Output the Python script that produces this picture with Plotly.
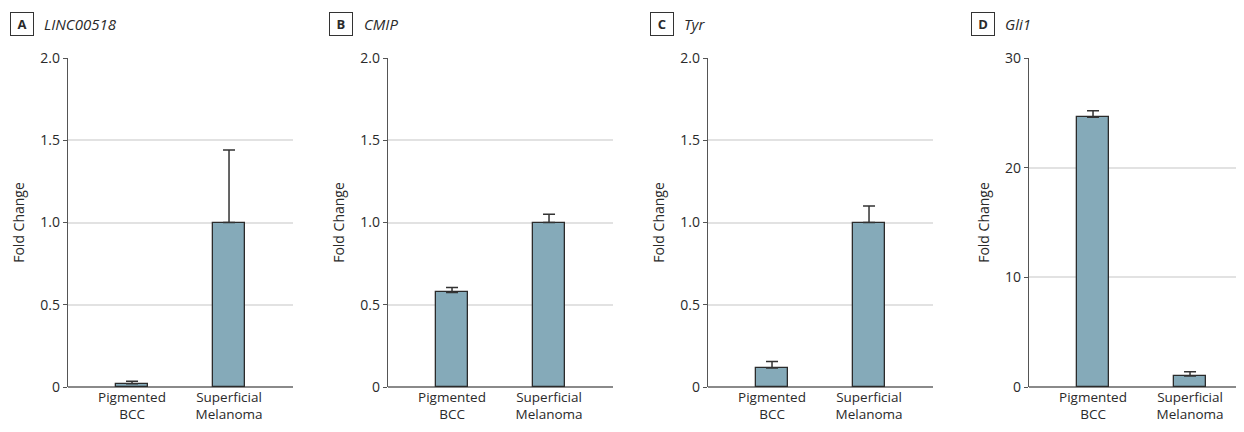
import plotly.graph_objects as go
from plotly.subplots import make_subplots

categories = ["Pigmented<br>BCC", "Superficial<br>Melanoma"]
panel_letters = ["A", "B", "C", "D"]
gene_names = ["LINC00518", "CMIP", "Tyr", "Gli1"]
fold_change = [
    [0.02, 1.0],
    [0.575, 1.0],
    [0.115, 1.0],
    [24.6, 1.0],
]
errors = [
    [0.015, 0.44],
    [0.03, 0.05],
    [0.04, 0.10],
    [0.6, 0.4],
]
y_ranges = [[0, 2.0], [0, 2.0], [0, 2.0], [0, 30]]
y_ticks = [
    [0, 0.5, 1.0, 1.5, 2.0],
    [0, 0.5, 1.0, 1.5, 2.0],
    [0, 0.5, 1.0, 1.5, 2.0],
    [0, 10, 20, 30],
]
y_ticktext = [
    ["0", "0.5", "1.0", "1.5", "2.0"],
    ["0", "0.5", "1.0", "1.5", "2.0"],
    ["0", "0.5", "1.0", "1.5", "2.0"],
    ["0", "10", "20", "30"],
]

# page body has an 8px margin, so the figure is laid out 8px in from the window
OFF = 8
W, H = 1244 - OFF, 432 - OFF
TOP, PH = 58 - OFF, 329
FONT = "Open Sans, Noto Sans, sans-serif"
BAR = "#85AAB9"
TXT = "#2a2a2a"

fig = make_subplots(rows=1, cols=4)

x_left_px = [68 - OFF, 388 - OFF, 708 - OFF, 1029 - OFF]
plot_w_px = 225
unit_px = 97.0

for i in range(4):
    fig.add_trace(
        go.Bar(
            x=[0, 1],
            y=fold_change[i],
            width=0.33,
            marker=dict(color=BAR, line=dict(color="#2b2b2b", width=1.3)),
            error_y=dict(type="data", array=errors[i], arrayminus=[0, 0],
                         symmetric=False, color="#333333", thickness=1.5, width=6),
            showlegend=False,
            hoverinfo="skip",
        ),
        row=1, col=i + 1,
    )
    right_px = min(x_left_px[i] + plot_w_px, W)
    x0 = x_left_px[i] / W
    x1 = right_px / W
    xr_right = -0.66 + (right_px - x_left_px[i]) / unit_px
    xa = "xaxis" if i == 0 else f"xaxis{i+1}"
    ya = "yaxis" if i == 0 else f"yaxis{i+1}"
    fig.layout[xa].update(
        domain=[x0, x1], range=[-0.66, xr_right],
        tickmode="array", tickvals=[0, 1], ticktext=categories,
        showgrid=False, zeroline=False, showline=False, ticks="",
        tickfont=dict(family=FONT, size=13.5, color=TXT),
    )
    fig.layout[ya].update(
        range=y_ranges[i], tickmode="array", tickvals=y_ticks[i], ticktext=y_ticktext[i],
        showgrid=True, gridcolor="#e2e2e2", gridwidth=1.5,
        zeroline=True, zerolinecolor="#8a8a8a", zerolinewidth=1.5,
        showline=True, linecolor="#555555", linewidth=1.3,
        ticks="outside", ticklen=4, tickcolor="#555555", tickwidth=1.2,
        tickfont=dict(family=FONT, size=14, color=TXT),
        title=dict(text="Fold Change", font=dict(family=FONT, size=14, color=TXT), standoff=12),
    )
    # panel letter box
    cy = (TOP + PH - (23.5 - OFF)) / PH
    fig.add_annotation(
        xref="paper", yref="paper", x=(x_left_px[i] - 46.5) / W, y=cy,
        text=f"<b>{panel_letters[i]}</b>", showarrow=False,
        font=dict(family=FONT, size=13, color=TXT),
        bordercolor="#333333", borderwidth=1, borderpad=0,
        width=22, height=22, xanchor="center", yanchor="middle",
    )
    fig.add_annotation(
        xref="paper", yref="paper", x=(x_left_px[i] - 26) / W, y=cy,
        text=f"<i>{gene_names[i]}</i>", showarrow=False,
        font=dict(family=FONT, size=15, color=TXT),
        xanchor="left", yanchor="middle",
    )

fig.update_layout(
    width=W, height=H,
    margin=dict(l=0, r=0, t=TOP, b=H - TOP - PH),
    paper_bgcolor="white", plot_bgcolor="white",
    bargap=0,
)

fig.write_html("out.html")
